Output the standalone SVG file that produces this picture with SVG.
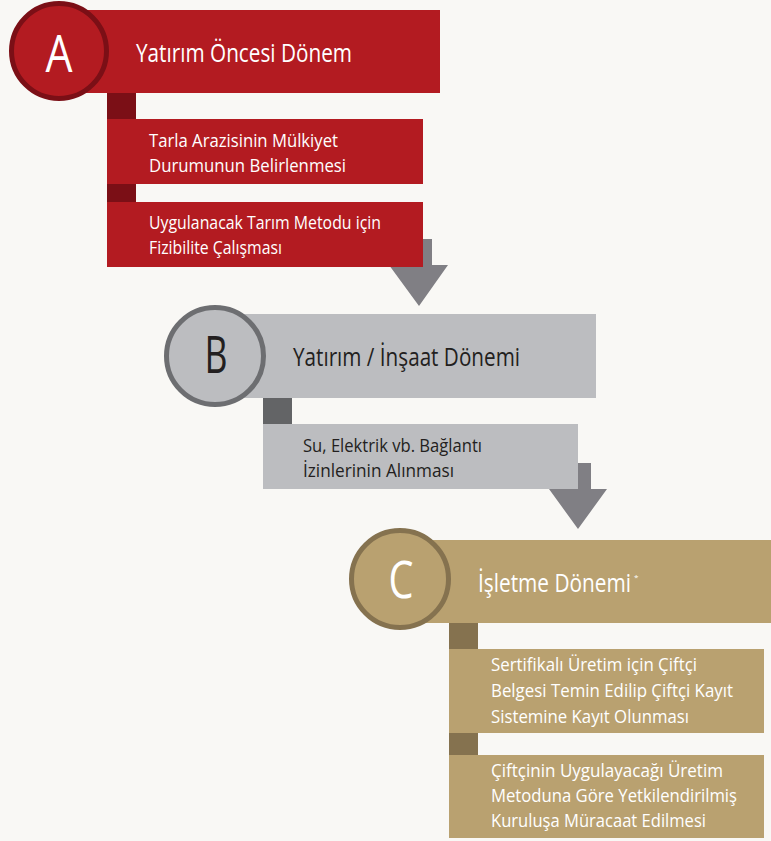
<svg xmlns="http://www.w3.org/2000/svg" width="771" height="841" viewBox="0 0 771 841">
  <style>
    text { font-family: "Open Sans", "Noto Sans", "DejaVu Sans", sans-serif; }
    .red { fill: #b31b21; }
    .redDark { fill: #7b0f16; }
    .gray { fill: #bcbdc0; }
    .grayDark { fill: #636466; }
    .tan { fill: #b9a170; }
    .tanDark { fill: #85724f; }
    .arrow { fill: #807f84; }
    .title { font-size: 25px; }
    .step { font-size: 19px; }
    .letter { font-size: 52px; text-anchor: middle; }
    .light { fill: #ffffff; }
    .dark { fill: #231f20; }
  </style>

  <rect x="0" y="0" width="771" height="841" fill="#f9f8f5"/>

  <!-- links between phases and steps -->
  <g id="connectors">
    <rect class="redDark" x="107" y="93" width="29" height="26"/>
    <rect class="redDark" x="107" y="184" width="29" height="18"/>
    <polygon class="arrow" points="408,239 432,239 432,265 448,265 419,306 389,265 408,265"/>
    <rect class="grayDark" x="263" y="398" width="29" height="26"/>
    <polygon class="arrow" points="566,463 591,463 591,489 607,489 578,529 549,489 566,489"/>
    <rect class="tanDark" x="449" y="623" width="29" height="26"/>
    <rect class="tanDark" x="449" y="733" width="29" height="22"/>
  </g>

  <!-- Phase A -->
  <g id="phase-a">
    <rect class="red" x="85" y="10" width="355" height="83"/>
    <circle cx="59" cy="51" r="47.5" fill="#b31b21" stroke="#7b0f16" stroke-width="5"/>
    <text class="letter light" x="59" y="72" textLength="27" lengthAdjust="spacingAndGlyphs">A</text>
    <text class="title light" x="136" y="62" textLength="216" lengthAdjust="spacingAndGlyphs">Yatırım Öncesi Dönem</text>
  </g>
  <g id="step-a1">
    <rect class="red" x="107" y="119" width="316" height="65"/>
    <text class="step light" x="149" y="147" textLength="189" lengthAdjust="spacingAndGlyphs">Tarla Arazisinin Mülkiyet</text>
    <text class="step light" x="149" y="172" textLength="197" lengthAdjust="spacingAndGlyphs">Durumunun Belirlenmesi</text>
  </g>
  <g id="step-a2">
    <rect class="red" x="107" y="202" width="316" height="65"/>
    <text class="step light" x="149" y="229" textLength="232" lengthAdjust="spacingAndGlyphs">Uygulanacak Tarım Metodu için</text>
    <text class="step light" x="149" y="254" textLength="133" lengthAdjust="spacingAndGlyphs">Fizibilite Çalışması</text>
  </g>

  <!-- Phase B -->
  <g id="phase-b">
    <rect class="gray" x="240" y="314" width="356" height="84"/>
    <circle cx="215" cy="356" r="48.5" fill="#bcbdc0" stroke="#6d6e71" stroke-width="5"/>
    <text class="letter dark" x="216" y="373" textLength="23" lengthAdjust="spacingAndGlyphs">B</text>
    <text class="title dark" x="293" y="366" textLength="227" lengthAdjust="spacingAndGlyphs">Yatırım / İnşaat Dönemi</text>
  </g>
  <g id="step-b1">
    <rect class="gray" x="263" y="424" width="315" height="65"/>
    <text class="step dark" x="303" y="452" textLength="179" lengthAdjust="spacingAndGlyphs">Su, Elektrik vb. Bağlantı</text>
    <text class="step dark" x="303" y="477" textLength="151" lengthAdjust="spacingAndGlyphs">İzinlerinin Alınması</text>
  </g>

  <!-- Phase C -->
  <g id="phase-c">
    <rect class="tan" x="425" y="540" width="346" height="83"/>
    <circle cx="400" cy="579" r="48.5" fill="#b9a170" stroke="#85724f" stroke-width="5"/>
    <text class="letter light" x="401" y="598" textLength="25" lengthAdjust="spacingAndGlyphs">C</text>
    <text class="title light" x="478" y="592">
      <tspan textLength="153" lengthAdjust="spacingAndGlyphs">İşletme Dönemi</tspan><tspan x="634" y="580" font-size="8">*</tspan>
    </text>
  </g>
  <g id="step-c1">
    <rect class="tan" x="449" y="649" width="315" height="84"/>
    <text class="step light" x="491" y="671" textLength="206" lengthAdjust="spacingAndGlyphs">Sertifikalı Üretim için Çiftçi</text>
    <text class="step light" x="491" y="697" textLength="242" lengthAdjust="spacingAndGlyphs">Belgesi Temin Edilip Çiftçi Kayıt</text>
    <text class="step light" x="491" y="723" textLength="198" lengthAdjust="spacingAndGlyphs">Sistemine Kayıt Olunması</text>
  </g>
  <g id="step-c2">
    <rect class="tan" x="449" y="755" width="315" height="83"/>
    <text class="step light" x="491" y="777" textLength="232" lengthAdjust="spacingAndGlyphs">Çiftçinin Uygulayacağı Üretim</text>
    <text class="step light" x="491" y="802" textLength="246" lengthAdjust="spacingAndGlyphs">Metoduna Göre Yetkilendirilmiş</text>
    <text class="step light" x="491" y="827" textLength="215" lengthAdjust="spacingAndGlyphs">Kuruluşa Müracaat Edilmesi</text>
  </g>
</svg>
